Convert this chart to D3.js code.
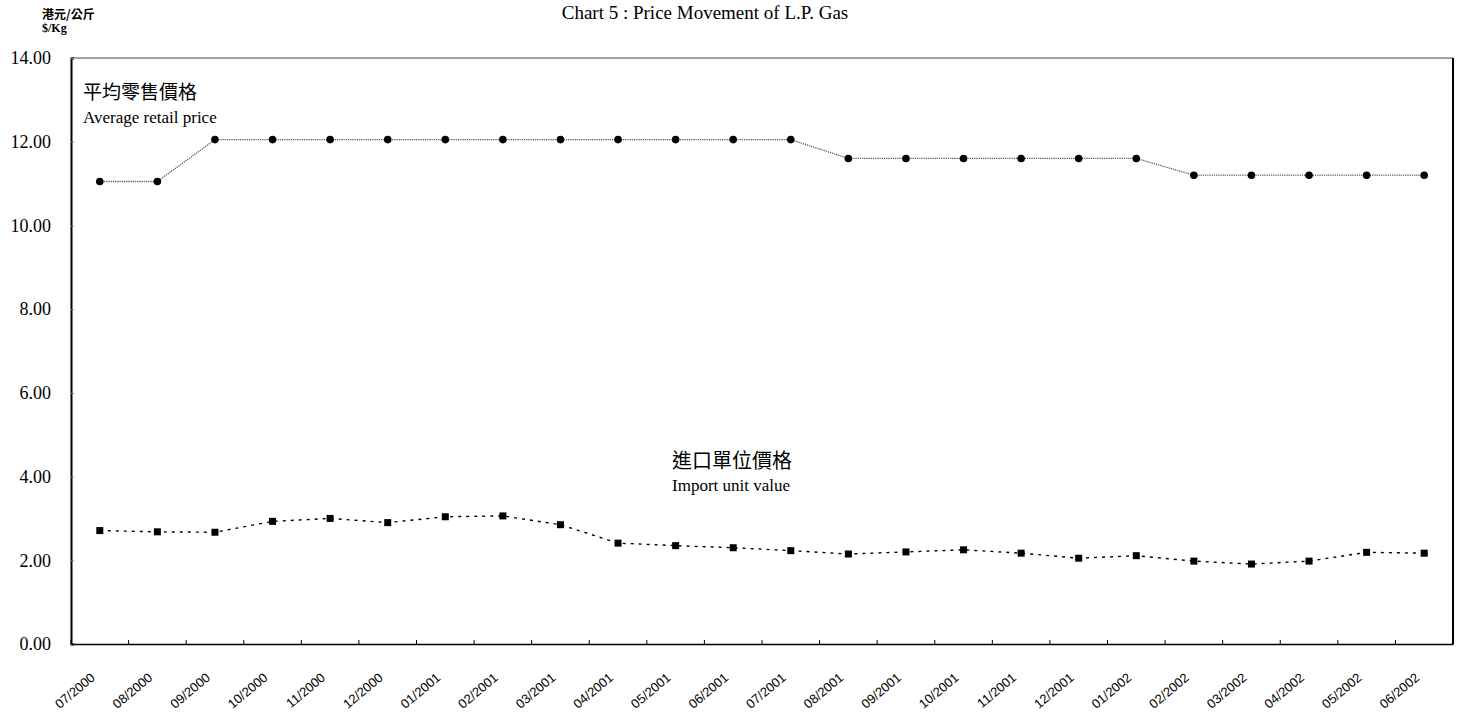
<!DOCTYPE html>
<html>
<head>
<meta charset="utf-8">
<script src="https://cdn.jsdelivr.net/npm/d3@7"></script>
<style>
  body { margin: 0; background: #fff; }
  svg { display: block; }
</style>
</head>
<body>
<svg id="chart" width="1471" height="717"></svg>
<script>
const categories = ["07/2000","08/2000","09/2000","10/2000","11/2000","12/2000",
  "01/2001","02/2001","03/2001","04/2001","05/2001","06/2001","07/2001","08/2001",
  "09/2001","10/2001","11/2001","12/2001","01/2002","02/2002","03/2002","04/2002",
  "05/2002","06/2002"];
const retailPrice = [11.05,11.05,12.05,12.05,12.05,12.05,12.05,12.05,12.05,12.05,12.05,12.05,12.05,
  11.6,11.6,11.6,11.6,11.6,11.6,11.2,11.2,11.2,11.2,11.2];
const importValue = [2.71,2.68,2.67,2.93,3.00,2.90,3.04,3.06,2.85,2.41,2.35,2.30,2.23,2.15,
  2.20,2.25,2.17,2.05,2.11,1.98,1.91,1.98,2.19,2.17];
const yTicks = [0,2,4,6,8,10,12,14];
const titleText = "Chart 5 : Price Movement of L.P. Gas";
const unitCN = "港元/公斤";
const unitEN = "$/Kg";
const retailCN = "平均零售價格";
const retailEN = "Average retail price";
const importCN = "進口單位價格";
const importEN = "Import unit value";

const svg = d3.select("#chart");
const L = 71, R = 1453, T = 58, B = 644;
const x = d3.scaleBand().domain(categories).range([L, R]).padding(0);
const y = d3.scaleLinear().domain([0, 14]).range([B, T]);
const cx = d => x(d) + x.bandwidth() / 2;
const serif = "'Liberation Serif', 'Times New Roman', serif";
const cjk = "'Noto Sans CJK TC', 'Noto Sans CJK SC', sans-serif";

// title
svg.append("text").attr("x", 705).attr("y", 19).attr("text-anchor", "middle")
  .attr("font-family", serif).attr("font-size", 19).text(titleText);

// unit labels
svg.append("text").attr("x", 42).attr("y", 19).attr("font-family", cjk)
  .attr("font-weight", "bold").attr("font-size", 12).text(unitCN);
svg.append("text").attr("x", 42).attr("y", 32).attr("font-family", serif)
  .attr("font-weight", "bold").attr("font-size", 12).text(unitEN);

// frame: top and right
svg.append("line").attr("x1", L).attr("x2", R).attr("y1", T).attr("y2", T)
  .attr("stroke", "#444").attr("stroke-width", 1);
svg.append("line").attr("x1", R).attr("x2", R).attr("y1", T).attr("y2", B)
  .attr("stroke", "#000").attr("stroke-width", 2);

// y axis
const yAxis = d3.axisLeft(y).tickValues(yTicks).tickFormat(d3.format(".2f"))
  .tickSize(-3).tickPadding(20);
const gy = svg.append("g").attr("transform", `translate(${L},0)`).call(yAxis);
gy.select(".domain").attr("stroke", "#000").attr("stroke-width", 2);
gy.selectAll(".tick line").attr("stroke", "#777");
gy.selectAll("text").attr("font-family", serif).attr("font-size", 18).attr("fill", "#000");

// x axis
const xAxis = d3.axisBottom(x).tickSize(0).tickFormat(d => d);
const gx = svg.append("g").attr("transform", `translate(0,${B})`).call(xAxis);
gx.select(".domain").attr("stroke", "#000").attr("stroke-width", 1.5);
gx.selectAll(".tick text")
  .attr("font-family", "'Liberation Sans Narrow', 'Liberation Sans', Arial, sans-serif")
  .attr("font-size", 13).attr("fill", "#000")
  .attr("text-anchor", "end")
  .attr("dy", 0).attr("y", 0)
  .attr("transform", "translate(-4,35) rotate(-40)");
// boundary tick marks (pointing up)
const bounds = categories.map(c => x(c)).concat([R]);
svg.append("g").selectAll("line").data(bounds).join("line")
  .attr("x1", d => d).attr("x2", d => d).attr("y1", B).attr("y2", B - 4)
  .attr("stroke", "#000").attr("stroke-width", 1);

// retail series
const line = d3.line().x((d, i) => cx(categories[i])).y(d => y(d));
svg.append("path").datum(retailPrice).attr("d", line).attr("fill", "none")
  .attr("stroke", "#555").attr("stroke-width", 1.3).attr("stroke-dasharray", "1.2,1");
svg.append("g").selectAll("circle").data(retailPrice).join("circle")
  .attr("cx", (d, i) => cx(categories[i])).attr("cy", d => y(d)).attr("r", 3.8)
  .attr("fill", "#000");

// import series
svg.append("path").datum(importValue).attr("d", line).attr("fill", "none")
  .attr("stroke", "#000").attr("stroke-width", 1.4).attr("stroke-dasharray", "3,5");
svg.append("g").selectAll("rect").data(importValue).join("rect")
  .attr("x", (d, i) => cx(categories[i]) - 3.5).attr("y", d => y(d) - 3.5)
  .attr("width", 7).attr("height", 7).attr("fill", "#000");

// series labels
svg.append("text").attr("x", 83).attr("y", 99).attr("font-family", cjk)
  .attr("font-size", 19).text(retailCN);
svg.append("text").attr("x", 83).attr("y", 123).attr("font-family", serif)
  .attr("font-size", 17).text(retailEN);
svg.append("text").attr("x", 672).attr("y", 468).attr("font-family", cjk)
  .attr("font-size", 20).text(importCN);
svg.append("text").attr("x", 672).attr("y", 491).attr("font-family", serif)
  .attr("font-size", 17).text(importEN);
</script>
</body>
</html>
